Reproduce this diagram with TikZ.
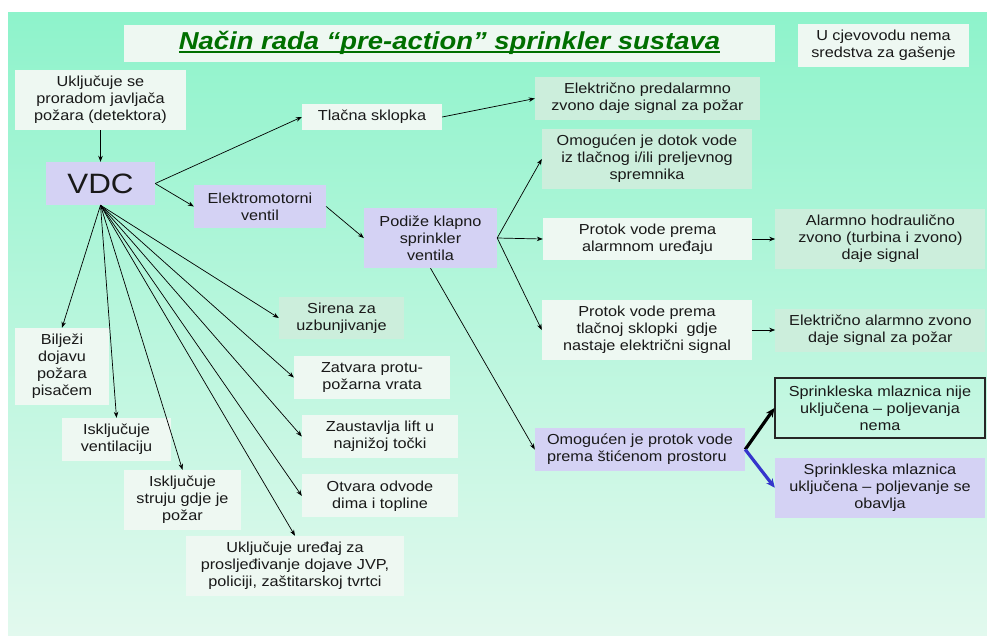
\documentclass[tikz,border=0pt]{standalone}
\usepackage{fontspec}
\setmainfont[FakeStretch=1.12]{Liberation Sans}
\usetikzlibrary{positioning,arrows.meta}

\definecolor{bgtop}{HTML}{8EF3CB}
\definecolor{bgbot}{HTML}{E2F9EE}
\definecolor{palefill}{HTML}{EEF8F2}
\definecolor{mintfill}{HTML}{CCEEDC}
\definecolor{lilafill}{HTML}{D4D2F4}
\definecolor{titlegreen}{HTML}{006F00}
\definecolor{arrowblue}{HTML}{3535CC}
\newcommand{\boxtxt}{\fontsize{14.5}{17}\selectfont}
\newsavebox{\ttlbox}
\newcommand{\thickul}[1]{\sbox{\ttlbox}{#1}\rlap{\usebox{\ttlbox}}\rule[-3pt]{\wd\ttlbox}{1.6pt}}

\tikzset{
  box/.style={inner sep=0pt, align=center, font=\boxtxt, text=black!90},
  info/.style={box, fill=palefill},
  result/.style={box, fill=mintfill},
  action/.style={box, fill=lilafill},
  wh/.style 2 args={minimum width=#1pt, minimum height=#2pt},
  arr/.style={-{Stealth[length=6pt,width=4.5pt]}, line width=0.7pt},
  bigarr/.style={-{Stealth[length=9pt,width=8pt,inset=3pt]}, line width=3.2pt}
}

\begin{document}
\begin{tikzpicture}[x=1pt,y=-1pt]
  \useasboundingbox (0,0) rectangle (987,635);
  \shade[top color=bgtop, bottom color=bgbot] (8,12) rectangle (987,635);

  % title and note
  \node[info,wh={651}{37},font=\fontsize{24.5}{28}\selectfont\bfseries\itshape,text=titlegreen] (title) at (449.5,43)
    {\thickul{Način rada “pre-action” sprinkler sustava}};
  \node[info,wh={171}{43}] (note) at (883.5,45.5) {U cjevovodu nema\\sredstva za gašenje};

  % main chain
  \node[info,wh={171}{60}] (detect) at (100.5,100) {Uključuje se\\proradom javljača\\požara (detektora)};
  \node[action,wh={109}{43},font=\fontsize{28}{30}\selectfont] (vdc) at (100.5,183.5) {VDC};
  \node[info,wh={140}{26}] (tlacna) at (372,117) {Tlačna sklopka};
  \node[action,wh={132}{43}] (emv) at (260,206.5) {Elektromotorni\\ventil};
  \node[action,wh={133}{60}] (klapna) at (430.5,238) {Podiže klapno\\sprinkler\\ventila};
  \node[result,wh={225}{43}] (predal) at (647.5,98.5) {Električno predalarmno\\zvono daje signal za požar};

  % water flow
  \node[result,wh={210}{60}] (dotok) at (647,159) {Omogućen je dotok vode\\iz tlačnog i/ili preljevnog\\spremnika};
  \node[info,wh={209}{42}] (protal) at (647.5,239) {Protok vode prema\\alarmnom uređaju};
  \node[result,wh={210}{60}] (hidro) [right=23pt of protal] {Alarmno hodraulično\\zvono (turbina i zvono)\\daje signal};
  \node[info,wh={210}{60}] (protsk) at (647,330) {Protok vode prema\\tlačnoj sklopki\ \ gdje\\nastaje električni signal};
  \node[result,wh={210}{43}] (elal) [right=23pt of protsk] {Električno alarmno zvono\\daje signal za požar};
  \node[action,wh={210}{43},align=left] (prostor) at (640,449.5) {Omogućen je protok vode\\prema štićenom prostoru};
  \node[box,draw=black!85,line width=1.1pt,wh={210}{60}] (nije) at (880,408) {Sprinkleska mlaznica nije\\uključena – poljevanja\\nema};
  \node[action,wh={210}{60}] (ukl) [below=19pt of nije] {Sprinkleska mlaznica\\uključena – poljevanje se\\obavlja};

  % VDC actions
  \node[result,wh={125}{42}] (sirena) at (341.5,318) {Sirena za\\uzbunjivanje};
  \node[info,wh={156}{43}] (vrata) at (372,377.5) {Zatvara protu-\\požarna vrata};
  \node[info,wh={156}{43}] (lift) at (380,436.5) {Zaustavlja lift u\\najnižoj točki};
  \node[info,wh={156}{43}] (dim) [below=16pt of lift] {Otvara odvode\\dima i topline};
  \node[info,wh={218}{60}] (jvp) at (295,566) {Uključuje uređaj za\\prosljeđivanje dojave JVP,\\policiji, zaštitarskoj tvrtci};
  \node[info,wh={94}{77}] (pisac) at (62,366.5) {Bilježi\\dojavu\\požara\\pisačem};
  \node[info,wh={109}{43}] (vent) at (116.5,439.5) {Isključuje\\ventilaciju};
  \node[info,wh={117}{60}] (struja) at (182.5,500) {Isključuje\\struju gdje je\\požar};

  \path[arr] (detect) edge (vdc);
  \path[arr] (vdc.east) edge (tlacna.west)
                        edge (emv.west);
  \path[arr] (tlacna.east) edge (predal.west);
  \path[arr] (emv.east) edge (klapna.west);
  \path[arr] (klapna.east) edge (dotok.west)
                           edge (protal.west)
                           edge (protsk.west);
  \path[arr] (klapna.south) edge (prostor.west);
  \path[arr] (protal) edge (hidro);
  \path[arr] (protsk) edge (elal);
  \path[arr] (vdc.south) edge (pisac.north)
                         edge (vent.north)
                         edge (struja.north)
                         edge (jvp.north)
                         edge (dim.west)
                         edge (lift.west)
                         edge (vrata.west)
                         edge (sirena.west);
  \path (prostor.east) edge[bigarr] (nije.west)
                       edge[bigarr,arrowblue] (ukl.west);
\end{tikzpicture}
\end{document}
